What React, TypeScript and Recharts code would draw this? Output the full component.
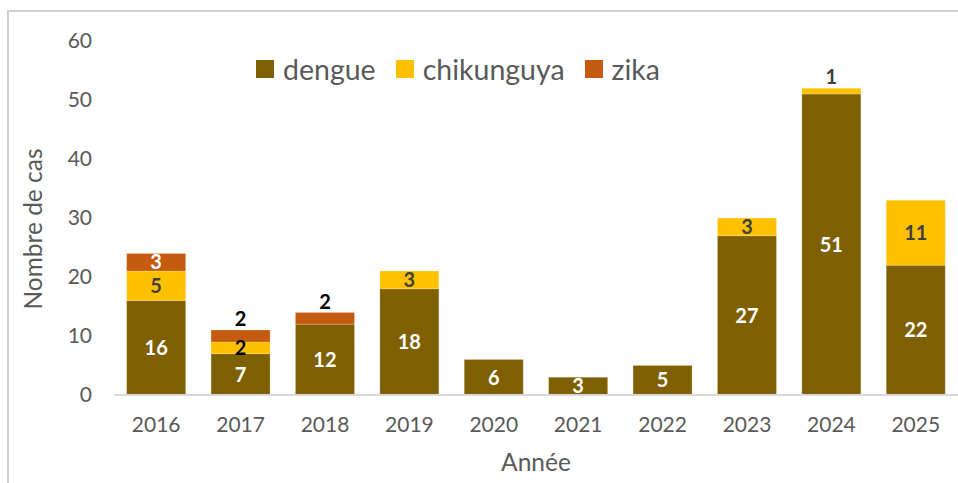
import React from 'react';
import { BarChart, Bar, XAxis, YAxis, Legend, LabelList } from 'recharts';

const years = ['2016', '2017', '2018', '2019', '2020', '2021', '2022', '2023', '2024', '2025'];
const dengue = [16, 7, 12, 18, 6, 3, 5, 27, 51, 22];
const chikungunya = [5, 2, 0, 3, 0, 0, 0, 3, 1, 11];
const zika = [3, 2, 2, 0, 0, 0, 0, 0, 0, 0];
const yTicks = [0, 10, 20, 30, 40, 50, 60];

const seriesNames = ['dengue', 'chikungunya', 'zika'];
const seriesValues: Record<string, number[]> = { dengue, chikungunya, zika };
const legendLabels = ['dengue', 'chikunguya', 'zika'];

const COLORS: Record<string, string> = { dengue: '#7F6000', chikungunya: '#FFC000', zika: '#C55A11' };
const FONT = 'Lato, "Open Sans", sans-serif';
const GRAY = '#595959';

const data = years.map((year, i) => ({
  year,
  dengue: dengue[i],
  chikungunya: chikungunya[i],
  zika: zika[i],
}));

const isTop = (series: string, index: number) => {
  const pos = seriesNames.indexOf(series);
  for (let k = pos + 1; k < seriesNames.length; k++) {
    if (seriesValues[seriesNames[k]][index] > 0) return false;
  }
  return true;
};

const makeLabel = (series: string, insideColor: string, aboveColor: string) => (props: any) => {
  const { x, y, width, height, value, index } = props;
  if (!value) return null;
  const above = value <= 2 && isTop(series, index);
  const cx = Number(x) + Number(width) / 2;
  const cy = above ? Number(y) - 11 : Number(y) + Number(height) / 2;
  const fill = above ? aboveColor : series === 'chikungunya' && value <= 2 ? '#000000' : insideColor;
  return (
    <text
      x={cx}
      y={cy}
      dy="0.36em"
      textAnchor="middle"
      fill={fill}
      fontSize={20}
      fontWeight={700}
      fontFamily={FONT}
    >
      {value}
    </text>
  );
};

const LegendContent = () => (
  <div
    style={{
      display: 'flex',
      alignItems: 'center',
      paddingLeft: 256,
      paddingTop: 52,
      fontFamily: FONT,
      fontSize: 28.5,
      color: GRAY,
      lineHeight: '34px',
    }}
  >
    {seriesNames.map((s, i) => (
      <div key={s} style={{ display: 'flex', alignItems: 'center', marginRight: 20 }}>
        <div style={{ width: 18, height: 18, background: COLORS[s], marginRight: 9 }} />
        <span>{legendLabels[i]}</span>
      </div>
    ))}
  </div>
);

const YTitle = (props: any) => {
  const vb = props.viewBox || {};
  const cx = 33;
  const cy = Number(vb.y) + Number(vb.height) / 2 + 11;
  return (
    <text
      x={cx}
      y={cy}
      dy="0.35em"
      textAnchor="middle"
      transform={`rotate(-90, ${cx}, ${cy})`}
      fill={GRAY}
      fontSize={24.5}
      fontFamily={FONT}
    >
      Nombre de cas
    </text>
  );
};

export default function App() {
  return (
    <div style={{ position: 'absolute', left: 0, top: 0, width: 958, height: 483, overflow: 'hidden', background: '#fff' }}>
      <div
        style={{
          position: 'absolute',
          left: 7,
          top: 10,
          width: 1000,
          height: 600,
          borderLeft: '2px solid #cfcfcf',
          borderTop: '2px solid #cfcfcf',
        }}
      />
      <div style={{ position: 'absolute', left: 0, top: 0 }}>
        <BarChart
          width={958}
          height={483}
          data={data}
          margin={{ top: 41, right: 0, bottom: 0, left: 0 }}
          barCategoryGap="15%"
        >
          <XAxis
            dataKey="year"
            height={88}
            tickLine={false}
            tickSize={0}
            tickMargin={22}
            axisLine={{ stroke: '#d9d9d9', strokeWidth: 2 }}
            tick={{ fill: GRAY, fontSize: 21, fontFamily: FONT }}
            label={{ value: 'Année', position: 'insideBottom', offset: 12, fill: GRAY, fontSize: 24.5, fontFamily: FONT }}
          />
          <YAxis
            width={114}
            domain={[0, 60]}
            ticks={yTicks}
            tickLine={false}
            axisLine={false}
            tickSize={0}
            tickMargin={22}
            tick={{ fill: GRAY, fontSize: 21, fontFamily: FONT }}
            label={<YTitle />}
          />
          <Legend
            layout="vertical"
            verticalAlign="middle"
            align="center"
            wrapperStyle={{ top: 0, left: 0, width: 958 }}
            content={<LegendContent />}
          />
          {seriesNames.map((s) => (
            <Bar
              key={s}
              dataKey={s}
              name={s}
              stackId="a"
              fill={COLORS[s]}
              stroke="#ffffff"
              strokeOpacity={0.25}
              strokeWidth={0.75}
              isAnimationActive={false}
            >
              <LabelList
                dataKey={s}
                content={makeLabel(
                  s,
                  s === 'chikungunya' ? '#404040' : '#ffffff',
                  s === 'zika' ? '#000000' : '#404040'
                )}
              />
            </Bar>
          ))}
        </BarChart>
      </div>
    </div>
  );
}
